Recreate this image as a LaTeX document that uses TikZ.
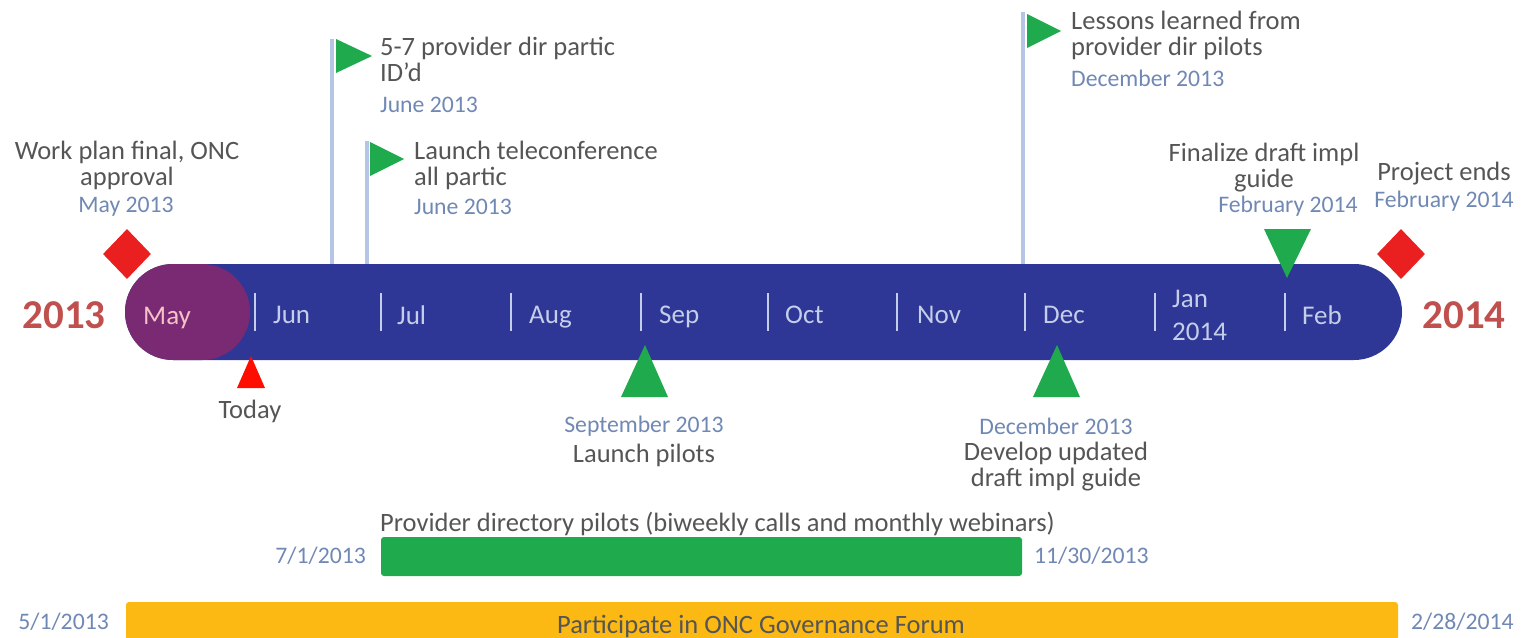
\documentclass[tikz,border=0pt]{standalone}
\usepackage{fontspec}
\setmainfont{Carlito}
\usetikzlibrary{shapes.geometric}
\definecolor{barblue}{HTML}{2E3696}
\definecolor{maypurple}{HTML}{7A2A72}
\definecolor{flagpole}{HTML}{B4C6E4}
\definecolor{flaggreen}{HTML}{1FAA4E}
\definecolor{datecol}{HTML}{7088B4}
\definecolor{txtcol}{HTML}{555555}
\definecolor{yearred}{HTML}{C0504D}
\definecolor{diared}{HTML}{E9201F}
\definecolor{tick}{HTML}{C5CEE8}
\definecolor{govgold}{HTML}{FDB913}
\tikzset{
 x=1pt,y=-1pt,
 lbl/.style={font=\fontsize{26.5}{26}\selectfont,text=txtcol,align=center,inner sep=0},
 lbll/.style={lbl,align=left,anchor=north west},
 dat/.style={font=\fontsize{23.7}{24}\selectfont,text=datecol,inner sep=0},
 mon/.style={font=\fontsize{27}{33}\selectfont,text=tick,inner sep=0,align=left,anchor=west},
 yr/.style={font=\bfseries\fontsize{41}{41}\selectfont,text=yearred,inner sep=0},
 tk/.style={draw=tick,line width=2.6pt},
 pole/.style={draw=flagpole,line width=3.5pt},
 flagtri/.style={fill=flaggreen},
 dia/.style={diamond,fill=diared,minimum width=48pt,minimum height=50pt,inner sep=0},
}
\begin{document}
\begin{tikzpicture}
\useasboundingbox (0,0) rectangle (1525,637);
% bar
\path[fill=barblue,rounded corners=48pt] (125,264) rectangle (1402,360);
\path[fill=maypurple,rounded corners=48pt] (125,264) rectangle (250,360);
% poles and flags
\coordinate (p1a) at (332,39); \coordinate (p1b) at (332,264);
\coordinate (p2a) at (367,141); \coordinate (p2b) at (367,264);
\coordinate (p3a) at (1023,12); \coordinate (p3b) at (1023,264);
\draw[pole] (p1a)--(p1b); \draw[pole] (p2a)--(p2b); \draw[pole] (p3a)--(p3b);
\fill[flagtri] (336,39)--(372,56)--(336,73)--cycle;
\fill[flagtri] (370,142)--(404,159)--(370,176)--cycle;
\fill[flagtri] (1027,14)--(1061,31)--(1027,48)--cycle;
% ticks
\foreach \x in {255,381,511,641,768,897,1025,1155,1285}{\draw[tk] (\x,293)--(\x,331);}
% months
\node[mon,text=pink!80!tick] (mMay) at (143,318) {May};
\node[mon] (mJun) at (273,315) {Jun};
\node[mon] (mJul) at (397,315) {Jul};
\node[mon] (mAug) at (529,317) {Aug};
\node[mon] (mSep) at (659,317) {Sep};
\node[mon] (mOct) at (785,315) {Oct};
\node[mon] (mNov) at (917,315) {Nov};
\node[mon] (mDec) at (1043,315) {Dec};
\node[mon] (mJan) at (1172,315) {Jan\\2014};
\node[mon] (mFeb) at (1302,315) {Feb};
% years
\node[yr] (y13) at (64,315) {2013};
\node[yr] (y14) at (1464,315) {2014};
% diamonds
\node[dia] (d1) at (127,254) {};
\node[dia] (d2) at (1401,254) {};
% top texts
\node[lbl] (t1) at (127,165) {Work plan final, ONC\\approval};
\node[dat] (t1d) at (126,207) {May 2013};
\node[lbll] (t2) at (380,37) {5-7 provider dir partic\\ID'd};
\node[dat,anchor=west] (t2d) at (380,105) {June 2013};
\node[lbll] (t3) at (414,140.5) {Launch teleconference\\all partic};
\node[dat,anchor=west] (t3d) at (414,207) {June 2013};
\node[lbll] (t4) at (1071,11) {Lessons learned from\\provider dir pilots};
\node[dat,anchor=west] (t4d) at (1071,78) {December 2013};
\node[lbl] (t5) at (1264,168) {Finalize draft impl\\guide};
\node[dat] (t5d) at (1288,206) {February 2014};
\node[lbl] (t6) at (1444,174) {Project ends};
\node[dat] (t6d) at (1444,201) {February 2014};
% triangles
\fill[flaggreen] (1264,229)--(1311,229)--(1287,278)--cycle;
\fill[flaggreen] (621,397)--(668,397)--(645,345)--cycle;
\fill[flaggreen] (1033,397)--(1080,397)--(1057,345)--cycle;
\fill[red!90!orange] (237,388)--(265,388)--(251,356)--cycle;
% bottom labels
\node[lbl] (today) at (250,411) {Today};
\node[dat] (b1d) at (644,426) {September 2013};
\node[lbl] (b1) at (644,455) {Launch pilots};
\node[dat] (b2d) at (1056,426) {December 2013};
\node[lbl] (b2) at (1056,467) {Develop updated\\draft impl guide};
% pilot bar
\node[lbl,anchor=west] (pt) at (380,524) {Provider directory pilots (biweekly calls and monthly webinars)};
\path[fill=flaggreen,rounded corners=3pt] (381,537) rectangle (1022,576);
\node[dat,anchor=east] (p1) at (366,556) {7/1/2013};
\node[dat,anchor=west] (p2) at (1034,556) {11/30/2013};
% gov bar
\path[fill=govgold,rounded corners=3pt] (126,602) rectangle (1398,640);
\node[lbl] (g) at (761,626) {Participate in ONC Governance Forum};
\node[dat,anchor=east] (g1) at (109,622) {5/1/2013};
\node[dat,anchor=west] (g2) at (1411,622) {2/28/2014};
\end{tikzpicture}
\end{document}
